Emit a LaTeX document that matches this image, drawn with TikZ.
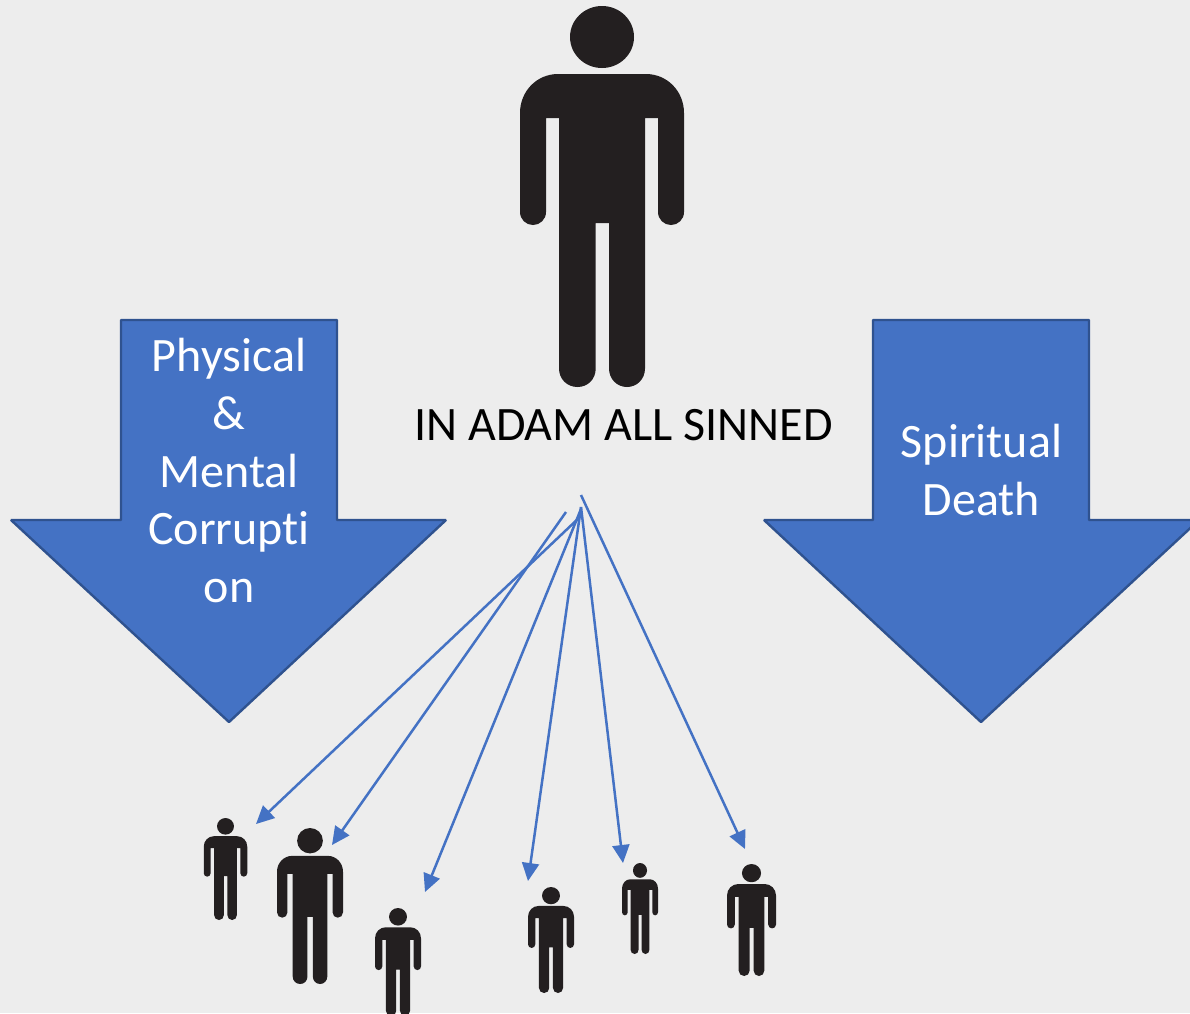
\documentclass[tikz,border=0pt]{standalone}
\usepackage{fontspec}
\setmainfont{Carlito}[Ligatures=NoCommon]
\usetikzlibrary{arrows.meta}
\definecolor{bgc}{HTML}{EDEDED}
\definecolor{blockfill}{HTML}{4472C4}
\definecolor{blockedge}{HTML}{2F528F}
\definecolor{figc}{HTML}{231F20}
\tikzset{
  blockarrow/.style={fill=blockfill,draw=blockedge,line width=2.4pt,line join=bevel},
  figure shape/.style={fill=figc,draw=none},
  linkarrow/.style={draw=blockfill,line width=2.5pt,-{Triangle[length=18pt,width=17pt]}},
  blocklabel/.style={text=white,font=\fontsize{48}{57.7}\selectfont,align=center,inner sep=0pt},
  mainlabel/.style={text=black,font=\fontsize{48}{58}\selectfont,inner sep=0pt}
}
% #1 centre x, #2 top y, #3 width, #4 height
\newcommand{\personshape}[4]{%
  \begin{scope}[shift={(#1,#2)},xscale=#3/164,yscale=#4/381]
    \fill[figure shape] (0,31) ellipse [x radius=32,y radius=31];
    \fill[figure shape]
      (-44,68) -- (44,68)
      .. controls (65,68) and (82,85) .. (82,107)
      -- (82,206) .. controls (82,213.5) and (76,219) .. (69,219)
      .. controls (62,219) and (56,213.5) .. (56,206)
      -- (56,112) -- (43,112) -- (43,362.5)
      .. controls (43,373) and (35,381) .. (25,381)
      .. controls (15,381) and (7,373) .. (7,362.5)
      -- (7,217) -- (-6.3,217) -- (-6.3,362.5)
      .. controls (-6.3,373) and (-14,381) .. (-24.5,381)
      .. controls (-35,381) and (-43,373) .. (-43,362.5)
      -- (-43,112) -- (-56,112) -- (-56,206)
      .. controls (-56,213.5) and (-62,219) .. (-69,219)
      .. controls (-76,219) and (-82,213.5) .. (-82,206)
      -- (-82,107) .. controls (-82,85) and (-65,68) .. (-44,68) -- cycle;
  \end{scope}}
\begin{document}
\begin{tikzpicture}[x=1pt,y=-1pt]
  \clip (0,0) rectangle (1190,1013);
  \path[use as bounding box] (0,0) rectangle (1190,1013);
  \fill[bgc] (0,0) rectangle (1190,1013);

  % block arrows
  \draw[blockarrow] (121,320) -- (337,320) -- (337,520) -- (446,520) -- (229,722) -- (11,520) -- (121,520) -- cycle;
  \draw[blockarrow] (873,320) -- (1089,320) -- (1089,520) -- (1199,520) -- (981,722) -- (764,520) -- (873,520) -- cycle;
  \node[blocklabel] (physical) at (229,470.5) {Physical\\\&\\Mental\\Corrupti\\on};
  \node[blocklabel] (spiritual) at (981.5,470) {Spiritual\\Death};
  \node[mainlabel] (insinned) at (623.5,425) {IN ADAM ALL SINNED};

  % figures
  \personshape{602}{6}{164}{381}
  \personshape{225.5}{818}{43.5}{102}
  \personshape{310}{828}{66}{156}
  \personshape{398}{908}{46}{108}
  \personshape{551}{887}{46}{106}
  \personshape{640}{863}{36}{91}
  \personshape{751.5}{864}{49}{112}

  % connector ends
  \coordinate (s1) at (581,516);
  \coordinate (s2) at (566,512);
  \coordinate (s3) at (581,509);
  \coordinate (s4) at (581,507);
  \coordinate (s5) at (581,507);
  \coordinate (s6) at (581,495);
  \coordinate (e1) at (256,824);
  \coordinate (e2) at (332,845);
  \coordinate (e3) at (425,892);
  \coordinate (e4) at (528,881);
  \coordinate (e5) at (623,863);
  \coordinate (e6) at (745,849);
  \draw[linkarrow] (s1) -- (e1);
  \draw[linkarrow] (s2) -- (e2);
  \draw[linkarrow] (s3) -- (e3);
  \draw[linkarrow] (s4) -- (e4);
  \draw[linkarrow] (s5) -- (e5);
  \draw[linkarrow] (s6) -- (e6);
\end{tikzpicture}
\end{document}
